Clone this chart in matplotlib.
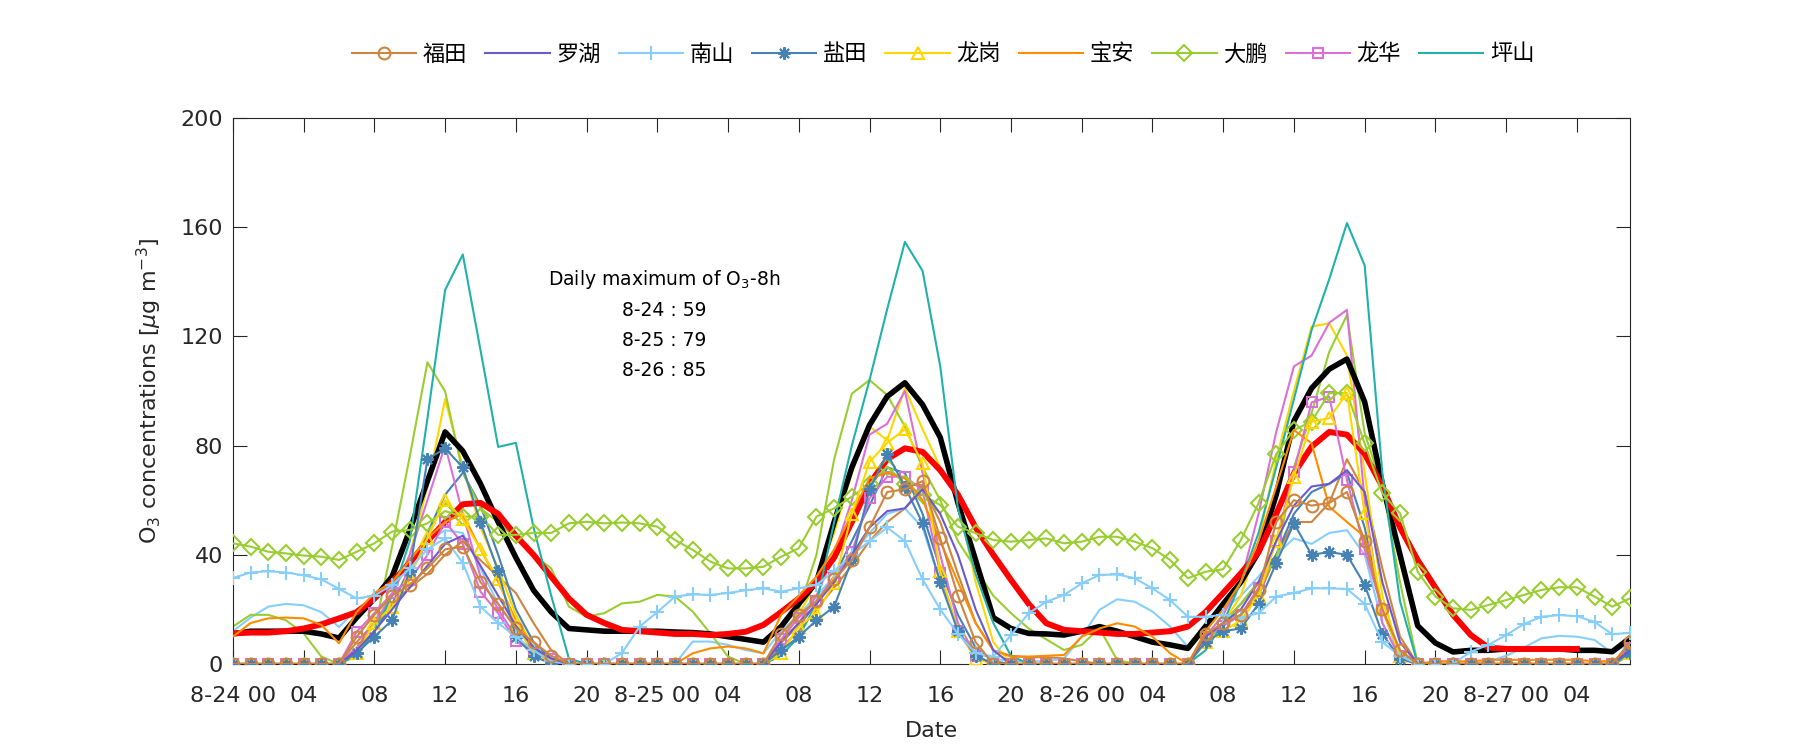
import matplotlib
matplotlib.use('Agg')
import matplotlib.pyplot as plt
import numpy as np

hours = list(range(80))
xtick_pos = list(range(0, 80, 4))
xtick_labels = ['8-24 00', '04', '08', '12', '16', '20',
                '8-25 00', '04', '08', '12', '16', '20',
                '8-26 00', '04', '08', '12', '16', '20',
                '8-27 00', '04']
stations = ['福田', '罗湖', '南山', '盐田', '龙岗', '宝安', '大鹏', '龙华', '坪山']

futian = [0,0,0,0,0,0,0,10,18,25,
          29,35,42,43,30,22,13,8,3,0,
          0,0,0,0,0,0,0,0,0,0,
          0,11,18,23,31,38,50,63,64,67,
          46,25,8,0,0,0,0,0,0,0,
          0,0,0,0,0,11,15,18,27,52,
          60,58,59,63,45,20,5,0,0,0,
          0,0,0,0,0,0,0,0,0,8]
futian_b = [0,0,0,0,0,0,0,8,15,22,
            28,33,40,45,38,32,26,15,5,0,
            0,0,0,0,0,0,0,0,0,0,
            0,6,12,20,28,36,45,52,57,65,
            52,33,15,5,3,2.5,2.5,2,1,0,
            0,0,0,0,0,10,14,18,25,40,
            52,52,59,75,63,35,10,0,0,0,
            0,0,0,0,0,0,0,0,0,7]
luohu = [0,0,0,0,0,0,0,5,12,20,
         28,36,44,47,36,25,14,6,2,0,
         0,0,0,0,0,0,0,0,0,0,
         0,8,15,22,30,40,50,56,57,64,
         55,40,20,5,0,0,0,0,0,0,
         0,0,0,0,0,10,15,20,30,45,
         58,65,66,71,63,30,8,0,0,0,
         0,0,0,0,0,0,0,0,0,5]
nanshan = [31.5,33.5,34,33.5,32.5,31,27.5,24,25,29,
           35,42,46,37,21,15,10,5,1,0,
           0,0,4,13.7,19,24.7,25.5,25.3,26,27,
           27.7,26.5,27.7,29,34,40,45,50,45,31,
           20,11,4,2.7,10.6,18.6,22.8,25.3,29.5,32.6,
           32.8,31.4,27.7,23.4,17.3,17.3,18,17,18.6,24.7,
           26,27.7,27.7,27.5,22,8,3,0,0,0,
           4.5,7,10.6,14.6,17.3,17.9,17.5,15.4,10.9,11.4]
nanshan_b = [12,17,21,22,21.5,19,13.5,20,24,28,
             36,45,49,48,35,22,13,6,2,0,
             0,0,0,0,0,0,8.2,8.2,7,5.1,
             3.9,12,18,25,32,40,48,55,57,50,
             30,14,4,2,1,1,1,2,10,19.8,
             23.7,22.8,19.2,13.7,6.3,15,20,25,32,40,
             46,44,48,49,40,15,3,0,0,0,
             0,1,3,6,9.4,10.3,10,8.8,4,7.6]
yantian = [0,0,0,0,0,0,0,4,10,16,
           34,75,79,72,52,34,10,3,0,0,
           0,0,0,0,0,0,0,0,0,0,
           0,5,10,16,21,38,64,77,65,51.5,
           30,12,3,0,0,0,0,0,0,0,
           0,0,0,0,0,8,12,13,22,37,
           51.5,40,41,40,29,11,2,0,0,0,
           0,0,0,0,0,0,0,0,0,4]
yantian_b = [0,0,0,0,0,0,0,5,12,22,
             35,48,62,70,58,40,20,8,2,0,
             0,0,0,0,0,0,0,0,0,0,
             0,8,14,22,32,45,58,72,70,55,
             35,18,6,1,0,0,0,0,0,0,
             0,0,0,0,0,10,15,22,30,40,
             55,63,66,70,50,20,4,0,0,0,
             0,0,0,0,0,0,0,0,0,4]
longgang = [0,0,0,0,0,0,0,4,15,21,
            32,46,60,53,42,31,14,4,0,0,
            0,0,0,0,0,0,0,0,0,0,
            0,4,13.7,18.6,29.5,55,74,81,86,73.5,
            34,12,2,0,0,0,0,0,0,0,
            0,0,0,0,0,8,12,16,25,45,
            68.6,88.8,90,99.2,55.2,20,3,0,0,0,
            0,0,0,0,0,0,0,0,0,4]
longgang_b = [0,0,0,0,0,0,0,5,15,25,
              40,65,97,72,50,35,18,6,1,0,
              0,0,0,0,0,0,0,0,0,0,
              0,8,18,30,48,70,87,82,101,86,
              72,60,30,8,0,0,0,0,0,0,
              0,0,0,0,0,8,15,25,45,75,
              100,123.6,124.8,113,70,25,3,0,0,0,
              0,0,0,0,0,0,0,0,0,3]
baoan = [10,15,16.7,17,16.7,14.3,7.6,19,26,30,
         38,46,52,55,42,30,16,6,1,0,
         0,0,0,0,0,0,3.9,5.7,6.4,5.7,
         3.9,18,25,32,42,55,68,70,68,60,
         45,30,15,5,2.7,2.7,3,3.3,10,13,
         14.9,13.7,10,3.9,0,12,20,30,45,65,
         85.7,80.8,57.6,52,46.6,20,5,0,1,1,
         1,1.5,1.5,1.5,1.5,1.5,1.5,1,1,5]
dapeng = [44.2,43,41.1,40.5,39.7,39.3,38.1,41.1,44.2,48.5,
          49.1,51.5,56,54,54,47.3,47.3,48,48,51.5,
          52.1,51.5,51.8,51.5,50.3,45.4,41.8,37.5,35,35,
          35.6,39.3,42.4,54,57,61.3,66,72.3,66,62,
          58.2,50.3,47.9,45.4,44.8,45.4,46,44.2,44.8,46.6,
          46.6,44.8,42.4,38.1,31.4,33.8,34.7,45.4,58.9,76.9,
          85.7,88.8,99.2,99.2,80.8,62.5,55.2,33.8,24.7,20.4,
          19.8,21.6,23.4,25.3,27.1,28.1,28.1,24.7,21,24]
dapeng_b = [13.7,18,18,16,11.2,2.7,0,5,12,43,
            76,110.5,99.8,70,57,52,46,40,35,21,
            17.3,18.6,22.2,22.8,25.3,24.7,19.2,11.2,2.7,0,
            0,8,20,40,75,99,104,98.5,87,72,
            60,45,35,25,18.6,13,9,5.1,7,13.1,
            1.5,0,0,0,0,8,15,22,30,38,
            72,92,114.4,127.8,84.5,65,30,0,0,0,
            0,0,0,0,0,0,0,0,0,5]
longhua = [0,0,0,0,0,0,0,11.8,18.6,25.9,
           30.8,39.9,52.1,44,26.5,18.6,8.3,4.6,2,0,
           0,0,0,0,0,0,0,0,0,0,
           0,9,17,23,32,41,60.7,68.6,68.6,63.7,
           33.2,12,3,0,0,0,0,0,0,0,
           0,0,0,0,0,10,14,18,28,45,
           70.5,95.8,97.9,67.4,42,19.8,3,0,0,0,
           0,0,0,0,0,0,0,0,0,6]
longhua_b = [0,0,0,0,0,0,0,6,15,25,
             40,60,80,55,32,20,10,4,1,0,
             0,0,0,0,0,0,0,0,0,0,
             0,8,15,25,40,60,84,88,100,70,
             40,15,3,0,0,0,0,0,0,0,
             0,0,0,0,0,10,18,30,55,85,
             109,113,125,129.7,60,15,2,0,0,0,
             0,0,0,0,0,0,0,0,0,5]
pingshan = [0,0,0,0,0,0,0,3,12,25,
            45,90,137,150,115,79.5,81,50,25,2,
            0,0,0,0,0,0,0,0,0,0,
            0,3,10,22,52,80,104,130,154.6,144,
            109,57,33,15,3,0,0,0,0,0,
            0,0,0,0,0,5,15,30,48,72,
            97,122.3,141,161.5,146,70,23,0,0,0,
            0,0,0,0,0,0,0,0,0,3]
mean_o3 = [11,12,12,12,12,11,9.5,17,24,32,
           49,67,85,78,66,52,39,27,19,13,
           12.5,12,12,12,12,11.7,11.5,11,10,9,
           8,13.7,22,30,52,72,87.5,98,103,95,
           83,59,38,17,13,11.2,11,10.6,12,13.7,
           12,10,8,7,5.7,13.7,22,30,41,62,
           89,101,108,111.7,96,66,40,14,7.7,4.4,
           5,5,5.5,5.5,5.5,5.5,5,5,4.5,9.5]
mda8 = [11.2,11.5,11.5,12,13,14.5,16.7,19,24,30,
        37,45,52,58.5,59,55,47,40,32,24,
        18,15,12.5,12,11.5,11,11,10.6,11,11.8,
        14.3,19,24,30,39,52,66,75,79,77.7,
        71,62,50,40,30.8,22,14.9,12.5,12,11.5,
        11,11,11.5,12,13.7,19,26,33.2,41,55,
        69.8,79.6,85,84,77,65,50,38,28,18,
        10.6,6,5.5,5.5,5.5,5.5,5.5,None,None,None]

colors = {'福田': '#CD853F', '罗湖': '#6A5ACD', '南山': '#87CEFA', '盐田': '#4682B4',
          '龙岗': '#FFD700', '宝安': '#FF8C00', '大鹏': '#9ACD32', '龙华': '#DA70D6',
          '坪山': '#20B2AA'}
ast = (8, 2, 0)
styles = {'福田': dict(marker='o', ms=8.5, mfc='none'),
          '罗湖': dict(marker=None),
          '南山': dict(marker='+', ms=10),
          '盐田': dict(marker=ast, ms=9),
          '龙岗': dict(marker='^', ms=9, mfc='none'),
          '宝安': dict(marker=None),
          '大鹏': dict(marker='D', ms=8.5, mfc='none'),
          '龙华': dict(marker='s', ms=7, mfc='none'),
          '坪山': dict(marker=None)}
main = {'福田': futian, '罗湖': luohu, '南山': nanshan, '盐田': yantian, '龙岗': longgang,
        '宝安': baoan, '大鹏': dapeng, '龙华': longhua, '坪山': pingshan}
second = {'福田': futian_b, '南山': nanshan_b, '盐田': yantian_b, '龙岗': longgang_b,
          '大鹏': dapeng_b, '龙华': longhua_b}

fig = plt.figure(figsize=(18, 7.5), dpi=100)
ax = fig.add_axes([0.1294, 0.1147, 0.7761, 0.728])

lw = 1.5
for name, vals in second.items():
    ax.plot(hours, vals, color=colors[name], lw=lw, zorder=2)

ax.plot(hours, mean_o3, color='black', lw=4, zorder=3)
mda8_arr = np.array([np.nan if v is None else v for v in mda8], dtype=float)
ax.plot(hours, mda8_arr, color='red', lw=4.3, zorder=3)

handles = []
for i, name in enumerate(stations):
    st = styles[name]
    kw = dict(color=colors[name], lw=lw, mew=1.5)
    if st['marker'] is not None:
        kw.update(marker=st['marker'], ms=st['ms'])
        if 'mfc' in st:
            kw['mfc'] = st['mfc']
    h, = ax.plot(hours, main[name], zorder=4 + (len(stations) - i) * 0.1, **kw)
    handles.append(h)

ax.set_xlim(0, 79)
ax.set_ylim(0, 200)
ax.set_yticks(range(0, 201, 40))
ax.set_xticks(xtick_pos)
ax.set_xticklabels(xtick_labels)
ax.tick_params(direction='in', length=10, width=0.8, top=True, right=True,
               labelsize=16, colors='#262626')
ax.tick_params(axis='x', pad=16)
ax.tick_params(axis='y', pad=7)
for sp in ax.spines.values():
    sp.set_color('#262626')
    sp.set_linewidth(0.8)

ax.set_ylabel('O$_3$ concentrations [$\\mu$g m$^{-3}$]', fontsize=16, color='#262626', labelpad=12)
ax.set_xlabel('Date', fontsize=16, color='#262626', labelpad=11)

ann_x = 24.4
ax.text(ann_x, 141, 'Daily maximum of O$_3$-8h', ha='center', va='center', fontsize=13.5)
ax.text(ann_x, 129.5, '8-24 : 59', ha='center', va='center', fontsize=13.5)
ax.text(ann_x, 118.5, '8-25 : 79', ha='center', va='center', fontsize=13.5)
ax.text(ann_x, 107.5, '8-26 : 85', ha='center', va='center', fontsize=13.5)

fig.legend(handles, stations, loc='center', bbox_to_anchor=(0.524, 0.928), ncol=9,
           frameon=False, prop={'family': ['Noto Sans CJK SC', 'DejaVu Sans'], 'size': 16},
           handlelength=2.9, handletextpad=0.3, columnspacing=0.8)

fig.savefig('out.png', dpi=100)
